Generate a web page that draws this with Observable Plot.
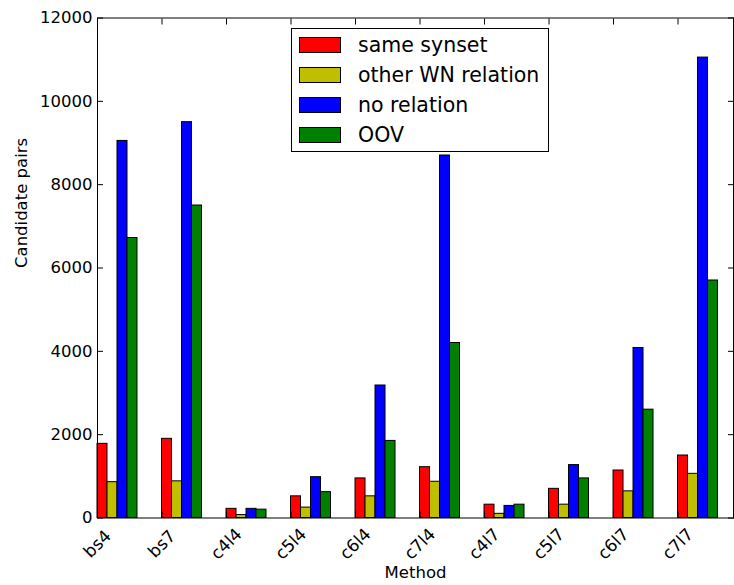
<!DOCTYPE html>
<html>
<head>
<meta charset="utf-8">
<script src="https://cdn.jsdelivr.net/npm/d3@7"></script>
<script src="https://cdn.jsdelivr.net/npm/@observablehq/plot@0.6"></script>
<style>
  html, body { margin: 0; padding: 0; background: #fff; }
  #chart { position: relative; width: 734px; height: 585px; }
</style>
</head>
<body>
<div id="chart"></div>
<script>
const methods = ["bs4", "bs7", "c4l4", "c5l4", "c6l4", "c7l4", "c4l7", "c5l7", "c6l7", "c7l7"];
const seriesNames = ["same synset", "other WN relation", "no relation", "OOV"];
const seriesColors = ["#ff0000", "#bfbf00", "#0000ff", "#008000"];
const sameSynset   = [1780, 1900, 220, 520, 950, 1220, 320, 700, 1140, 1500];
const otherWN      = [860, 880, 70, 250, 520, 870, 100, 320, 640, 1060];
const noRelation   = [9050, 9500, 220, 980, 3180, 8700, 290, 1270, 4080, 11050];
const oov          = [6720, 7500, 200, 620, 1850, 4200, 320, 950, 2600, 5700];
const yTicks = [0, 2000, 4000, 6000, 8000, 10000, 12000];

const seriesValues = [sameSynset, otherWN, noRelation, oov];
const barW = 0.155;
const data = [];
methods.forEach((m, i) => {
  seriesValues.forEach((vals, s) => {
    data.push({method: m, gi: i, si: s, series: seriesNames[s], value: vals[i]});
  });
});
const groupIdx = methods.map((m, i) => i);

const font = "DejaVu Sans, sans-serif";

const plot = Plot.plot({
  width: 734,
  height: 585,
  marginLeft: 97,
  marginRight: 1,
  marginTop: 17.5,
  marginBottom: 67.5,
  style: {fontFamily: font, fontSize: "16px", color: "#000", background: "#fff"},
  x: {domain: [0, 9.86], axis: null},
  y: {domain: [0, 12000], axis: null},
  color: {domain: seriesNames, range: seriesColors},
  marks: [
    Plot.rectY(data, {
      x1: d => d.gi + d.si * barW,
      x2: d => d.gi + (d.si + 1) * barW,
      y: "value",
      fill: "series",
      stroke: "#000",
      strokeWidth: 1
    }),
    Plot.frame({stroke: "#000", strokeWidth: 1}),
    Plot.axisY({ticks: yTicks, tickSize: 0, tickPadding: 5, label: null, fontSize: 16.5, tickFormat: d => String(d)}),
    Plot.axisY({ticks: yTicks, tickSize: 6, dx: 6, text: null, label: null}),
    Plot.axisY({anchor: "right", ticks: yTicks, tickSize: 6, dx: -6, text: null, label: null}),
    Plot.axisX({anchor: "top", ticks: groupIdx, tickSize: 6, dy: 6, text: null, label: null}),
    Plot.axisX({anchor: "bottom", ticks: groupIdx, tickSize: 6, dy: -6, text: null, label: null}),
    Plot.text(methods, {
      x: (d, i) => i,
      y: () => 0,
      text: d => d,
      rotate: -45,
      textAnchor: "middle",
      dy: 26,
      fontSize: 17,
      fill: "#000"
    }),
    Plot.text(["Method"], {frameAnchor: "bottom", dy: 60, fontSize: 16.5, fill: "#000"}),
    Plot.text(["Candidate pairs"], {frameAnchor: "left", dx: -76, rotate: -90, fontSize: 16.5, fill: "#000"})
  ]
});

document.getElementById("chart").appendChild(plot);

const svg = d3.select(plot);
const lg = svg.append("g").attr("font-family", font).attr("font-size", 20.5).attr("text-anchor", "start");
lg.append("rect").attr("x", 291.5).attr("y", 28.5).attr("width", 257).attr("height", 123)
  .attr("fill", "#fff").attr("stroke", "#000").attr("stroke-width", 1);
seriesNames.forEach((name, i) => {
  const cy = 45 + i * 30;
  lg.append("rect").attr("x", 299.5).attr("y", cy - 7.5).attr("width", 41).attr("height", 15)
    .attr("fill", seriesColors[i]).attr("stroke", "#000").attr("stroke-width", 1);
  lg.append("text").attr("x", 358).attr("y", cy).attr("dy", "0.36em")
    .attr("text-anchor", "start").attr("fill", "#000").text(name);
});
</script>
</body>
</html>
